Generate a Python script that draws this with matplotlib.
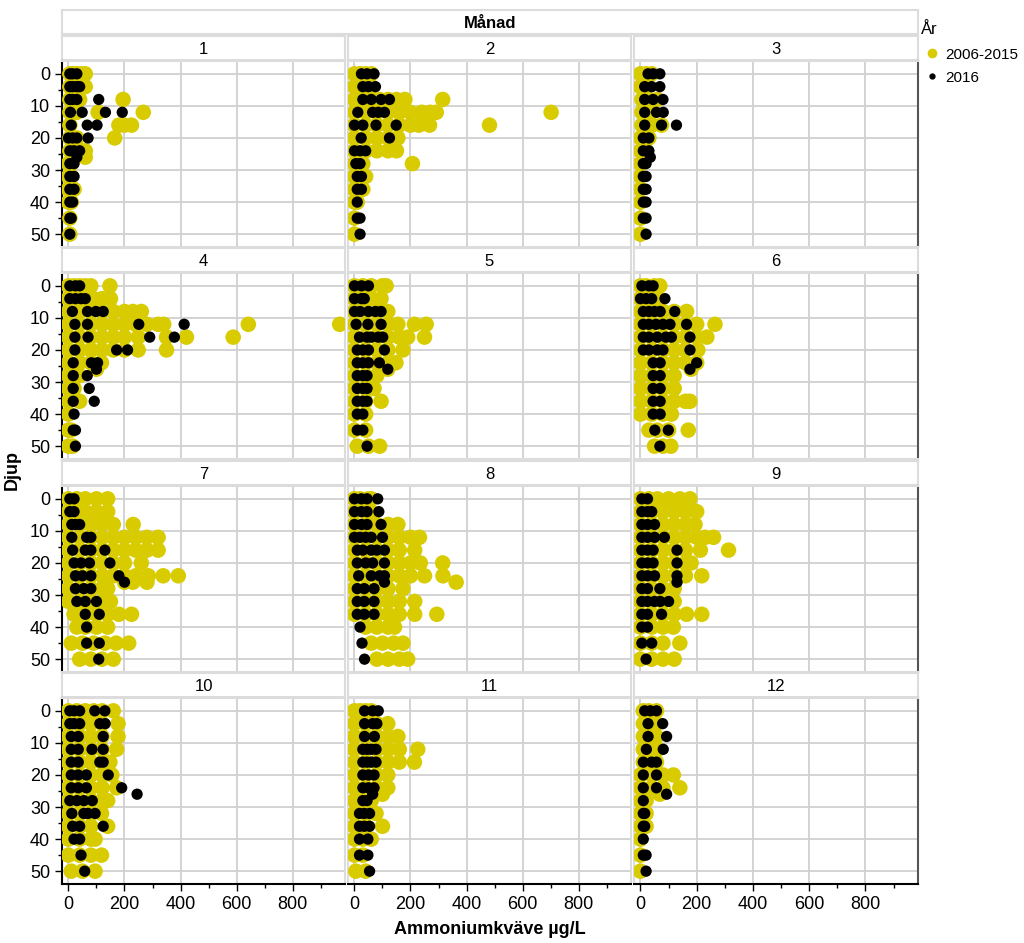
import matplotlib.pyplot as plt
from matplotlib.lines import Line2D
from matplotlib.ticker import MultipleLocator

plt.rcParams['font.family'] = ['Liberation Sans Narrow', 'Liberation Sans', 'DejaVu Sans']

# depth -> ammonium values, one dict per month and period
hist_1 = {0: [5, 15, 30, 45, 60], 4: [5, 20, 40, 60], 8: [5, 20, 40, 195], 12: [5, 30, 106, 267],
          16: [5, 180, 200, 225], 20: [5, 30, 165], 24: [5, 20, 50, 60], 26: [60], 28: [0, 10],
          32: [0, 10], 36: [0, 10, 20], 40: [0, 10], 45: [5], 50: [5]}
y16_1 = {0: [5, 15, 30], 4: [5, 15, 30, 40], 8: [5, 15, 30, 108], 12: [7, 49, 132, 192],
         16: [10, 67, 102], 20: [0, 15, 30, 70], 24: [5, 20, 40], 26: [30], 28: [5, 20],
         32: [5, 20], 36: [5, 20], 40: [5, 15], 45: [5, 10], 50: [5]}

hist_2 = {0: [0, 20, 40, 60], 4: [0, 20, 40, 60], 8: [0, 30, 60, 90, 120, 150, 180, 315],
          12: [0, 40, 80, 120, 160, 200, 240, 270, 292, 702],
          16: [0, 40, 80, 120, 160, 200, 230, 268, 482], 20: [0, 40, 80, 120, 155],
          24: [0, 40, 80, 120, 150], 28: [0, 30, 207], 32: [0, 20, 40], 36: [0, 30],
          40: [0, 10], 45: [0], 50: [0]}
y16_2 = {0: [25, 45, 70], 4: [30, 50, 75], 8: [30, 60, 95, 125], 12: [12, 65, 85, 107],
         16: [0, 30, 77, 149], 20: [24, 125], 24: [0, 20, 40], 28: [5, 20], 32: [10, 25],
         36: [10, 25], 40: [10], 45: [10, 20], 50: [20]}

hist_3 = {0: [0, 20, 40], 4: [0, 20], 8: [5, 30, 60], 12: [5, 40], 16: [5, 40, 75], 20: [0, 30],
          24: [0, 20], 28: [0], 32: [0], 36: [0], 40: [0], 45: [0], 50: [0]}
y16_3 = {0: [27, 45, 69], 4: [15, 40, 69], 8: [15, 45, 80], 12: [15, 57, 81], 16: [15, 75, 128],
         20: [10, 30], 24: [10, 30], 26: [35], 28: [10, 20], 32: [10, 20], 36: [10, 20],
         40: [10, 20], 45: [10, 20], 50: [20]}

hist_4 = {0: [0, 20, 40, 60, 80, 148], 4: [0, 30, 60, 90, 120, 150],
          8: [0, 40, 80, 120, 160, 200, 230, 260],
          12: [0, 40, 80, 120, 160, 200, 240, 280, 320, 340, 642, 968],
          16: [0, 40, 80, 120, 160, 200, 249, 350, 421, 588],
          20: [0, 40, 80, 120, 160, 200, 249, 350], 24: [0, 40, 80, 118], 26: [100],
          28: [0, 20, 40], 32: [0, 20], 36: [0, 40], 40: [0], 45: [0, 10], 50: [0, 15]}
y16_4 = {0: [5, 25, 40], 4: [5, 25, 45, 60], 8: [14, 68, 98, 124], 12: [23, 68, 251, 413],
         16: [23, 70, 290, 378], 20: [23, 172, 211], 24: [17, 82, 104], 26: [100],
         28: [17, 67], 32: [17, 74], 36: [17, 92], 40: [20], 45: [17, 25], 50: [25]}

hist_5 = {0: [0, 30, 60, 100, 113], 4: [0, 30, 60, 95], 8: [0, 40, 80, 119],
          12: [0, 40, 80, 120, 155, 214, 256], 16: [0, 40, 80, 120, 160, 190, 250],
          20: [0, 40, 80, 120, 173], 24: [0, 40, 80, 120, 148], 26: [119], 28: [0, 40, 80],
          32: [0, 40, 70], 36: [0, 40, 95], 40: [0, 40], 45: [0, 40], 50: [10, 50, 90]}
y16_5 = {0: [0, 25, 50], 4: [0, 25, 35], 8: [0, 20, 50, 75, 95], 12: [6, 48, 95],
         16: [18, 45, 60, 85, 101], 20: [10, 30, 50, 107], 24: [10, 30, 50, 89], 26: [119],
         28: [10, 30, 45], 32: [10, 30, 45], 36: [10, 30, 45], 40: [10, 30], 45: [10, 30],
         50: [45]}

hist_6 = {0: [0, 20, 50, 69], 4: [0, 30, 60], 8: [0, 40, 80, 120, 164],
          12: [0, 40, 80, 120, 160, 200, 265], 16: [0, 40, 80, 120, 160, 200, 236],
          20: [0, 40, 80, 120, 160, 204], 24: [0, 40, 80, 120, 160, 200], 26: [180],
          28: [0, 40, 80, 120], 32: [0, 40, 80, 120], 36: [0, 40, 80, 120, 160, 176],
          40: [0, 40, 80, 110], 45: [30, 60, 100, 170], 50: [50, 80, 108]}
y16_6 = {0: [5, 30, 45], 4: [0, 20, 40, 87], 8: [10, 30, 50, 70, 122],
         12: [10, 30, 55, 80, 105, 164], 16: [10, 30, 60, 90, 110, 176],
         20: [10, 30, 60, 80, 176], 24: [45, 70, 200], 26: [176], 28: [45, 70], 32: [45, 70],
         36: [45, 70], 40: [45, 70], 45: [51, 99], 50: [69]}

hist_7 = {0: [0, 30, 60, 100, 140], 4: [0, 30, 60, 100, 140], 8: [0, 40, 80, 120, 160, 231],
          12: [0, 40, 80, 120, 160, 200, 240, 280, 320],
          16: [0, 40, 80, 120, 160, 200, 240, 280, 320], 20: [0, 40, 80, 120, 160, 200, 260],
          24: [0, 40, 80, 120, 160, 200, 240, 285, 338, 392], 26: [200, 230, 280],
          28: [0, 40, 80, 120, 140], 32: [0, 40, 80, 120, 150], 36: [20, 60, 100, 140, 180, 225],
          40: [30, 60, 100, 140], 45: [10, 50, 90, 130, 170, 215], 50: [40, 80, 120, 160]}
y16_7 = {0: [5, 20], 4: [5, 20], 8: [12, 25, 40], 12: [12, 65, 80], 16: [15, 60, 80, 130],
         20: [20, 45, 75, 148], 24: [25, 50, 80, 180], 26: [200], 28: [25, 55, 80],
         32: [30, 60, 100], 36: [60, 110], 40: [65], 45: [65, 110], 50: [108]}

hist_8 = {0: [0, 20, 50, 60], 4: [0, 40, 60], 8: [0, 40, 80, 120, 155],
          12: [0, 40, 80, 120, 160, 200, 232], 16: [0, 40, 80, 120, 160, 215],
          20: [0, 40, 80, 120, 160, 200, 235, 315], 24: [0, 40, 80, 120, 160, 200, 250, 316],
          26: [363], 28: [0, 40, 80, 120, 173], 32: [0, 40, 80, 120, 160, 215],
          36: [0, 40, 80, 120, 160, 215, 294], 40: [40, 80, 120, 143], 45: [60, 100, 140, 173],
          50: [80, 120, 160, 190]}
y16_8 = {0: [0, 25, 45, 83], 4: [0, 25, 45, 87], 8: [0, 25, 45, 95], 12: [0, 20, 40, 60, 100],
         16: [10, 30, 60, 80, 107], 20: [10, 40, 65, 107], 24: [15, 60, 90, 107], 26: [107],
         28: [10, 35, 70], 32: [10, 35, 70], 36: [10, 35, 70], 40: [20], 45: [27], 50: [36]}

hist_9 = {0: [0, 30, 60, 100, 140, 176], 4: [0, 40, 80, 120, 160, 200],
          8: [0, 40, 80, 120, 160, 194], 12: [0, 40, 80, 120, 160, 200, 230, 260],
          16: [0, 40, 80, 120, 160, 213, 313], 20: [0, 40, 80, 120, 160, 180],
          24: [0, 40, 80, 120, 160, 218], 28: [0, 40, 80, 120], 32: [0, 40, 80, 120],
          36: [0, 40, 80, 120, 164, 218], 40: [0, 40, 80, 117], 45: [0, 40, 80, 140],
          50: [0, 40, 80, 120]}
y16_9 = {0: [5, 25], 4: [5, 25, 40], 8: [5, 25, 50], 12: [5, 25, 50, 85], 16: [5, 25, 45, 130],
         20: [5, 25, 45, 130], 24: [5, 25, 50, 130], 26: [130], 28: [5, 25, 69],
         32: [5, 25, 50, 70, 100], 36: [5, 25, 75], 40: [5, 25], 45: [5, 40], 50: [20]}

hist_10 = {0: [0, 30, 60, 90, 120, 160], 4: [0, 40, 80, 120, 177], 8: [0, 40, 80, 120, 177],
           12: [0, 40, 80, 120, 172], 16: [0, 40, 80, 120, 148], 20: [0, 40, 80, 120, 155],
           24: [0, 40, 80, 120, 172], 28: [0, 40, 80, 120, 140], 32: [0, 40, 80, 118],
           36: [0, 40, 80, 140], 40: [0, 40, 80, 95], 45: [0, 40, 80, 118], 50: [10, 50, 95]}
y16_10 = {0: [5, 20, 40, 94, 130], 4: [5, 20, 40, 112, 131], 8: [10, 35, 124],
          12: [10, 35, 84, 124], 16: [10, 35, 112, 124], 20: [10, 35, 64, 142],
          24: [10, 35, 64, 190], 26: [245], 28: [5, 30, 55, 85], 32: [12, 55, 70, 95],
          36: [15, 40, 124], 40: [20, 40], 45: [45], 50: [58]}

hist_11 = {0: [0, 20, 40, 60], 4: [0, 40, 80, 119], 8: [0, 40, 80, 120, 155],
           12: [0, 40, 80, 120, 160, 226], 16: [0, 40, 80, 120, 160, 214], 20: [0, 40, 80, 119],
           24: [0, 40, 80, 119], 26: [100], 28: [0, 30, 60], 32: [0, 40, 77], 36: [0, 40, 100],
           40: [0, 30, 60], 45: [0, 30], 50: [5, 40]}
y16_11 = {0: [36, 65, 85], 4: [36, 65, 80], 8: [36, 71], 12: [30, 45, 60, 77],
          16: [30, 45, 60, 77], 20: [30, 50, 70], 24: [30, 50, 70], 26: [65], 28: [30, 45],
          32: [18, 35, 54], 36: [18, 35, 54], 40: [18, 48], 45: [18, 48], 50: [54]}

hist_12 = {0: [10, 30, 57], 4: [10, 30, 57], 8: [10, 40, 57], 12: [10, 40, 62],
           16: [10, 40, 57], 20: [0, 40, 80, 117], 24: [0, 40, 80, 140], 26: [69], 28: [0, 20],
           32: [0, 20], 36: [0, 20], 40: [0], 45: [0], 50: [0]}
y16_12 = {0: [15, 35, 57], 4: [27, 79], 8: [27, 93], 12: [21, 81], 16: [10, 40, 57],
          20: [10, 57], 24: [10, 57], 26: [93], 28: [10], 32: [10, 15], 36: [10, 15], 40: [10],
          45: [10, 20], 50: [20]}

hist_all = [hist_1, hist_2, hist_3, hist_4, hist_5, hist_6,
            hist_7, hist_8, hist_9, hist_10, hist_11, hist_12]
y16_all = [y16_1, y16_2, y16_3, y16_4, y16_5, y16_6,
           y16_7, y16_8, y16_9, y16_10, y16_11, y16_12]
months = [str(m) for m in range(1, 13)]
series_labels = ['2006-2015', '2016']

YELLOW = '#d8cc00'
GRID = '#d0d0d0'
BORDER = '#dcdcdc'

W, H = 1024, 943
fig = plt.figure(figsize=(W / 100, H / 100), dpi=100)


def box(x0, y0, x1, y1):
    return [x0 / W, 1 - y1 / H, (x1 - x0) / W, (y1 - y0) / H]


def flatten(d):
    xs, ys = [], []
    for depth, vals in d.items():
        for v in vals:
            xs.append(v)
            ys.append(depth)
    return xs, ys


col_x = [(62, 345), (348, 631), (634, 918)]
row_y = [(61, 247), (273, 459), (486, 672), (698, 884)]

# top strip
top = fig.add_axes(box(62, 10, 918, 34))
top.set_xticks([])
top.set_yticks([])
for s in top.spines.values():
    s.set_color(BORDER)
    s.set_linewidth(1.5)
top.text(0.5, 0.45, 'Månad', ha='center', va='center', fontsize=12, fontweight='bold')

for i in range(12):
    r, c = divmod(i, 3)
    x0, x1 = col_x[c]
    y0, y1 = row_y[r]

    strip = fig.add_axes(box(x0, y0 - 25, x1, y0 - 1))
    strip.set_xticks([])
    strip.set_yticks([])
    for s in strip.spines.values():
        s.set_color(BORDER)
        s.set_linewidth(1.5)
    strip.text(0.5, 0.45, months[i], ha='center', va='center', fontsize=12)

    ax = fig.add_axes(box(x0, y0, x1, y1))
    hx, hy = flatten(hist_all[i])
    bx, by = flatten(y16_all[i])
    ax.scatter(hx, hy, s=125, color=YELLOW, edgecolors='none', zorder=3)
    ax.scatter(bx, by, s=66, color='black', edgecolors='none', zorder=4)

    ax.set_xlim(-23, 987)
    ax.set_ylim(54, -4)
    ax.set_xticks([0, 200, 400, 600, 800])
    ax.xaxis.set_minor_locator(MultipleLocator(100))
    ax.set_yticks([0, 10, 20, 30, 40, 50])
    ax.yaxis.set_minor_locator(MultipleLocator(5))
    ax.grid(True, which='major', color=GRID, linewidth=1.3, zorder=0)
    ax.set_axisbelow(True)

    for s in ax.spines.values():
        s.set_color(BORDER)
        s.set_linewidth(1.5)
    if c == 2:
        ax.spines['right'].set_color('#555555')

    ax.tick_params(which='both', direction='out', colors='black', labelsize=13)
    ax.tick_params(which='major', length=5, width=1)
    ax.tick_params(which='minor', length=3, width=1)
    if c == 0:
        ax.spines['left'].set_color('black')
    else:
        ax.tick_params(axis='y', which='both', left=False, labelleft=False)
    if r == 3:
        ax.spines['bottom'].set_color('black')
    else:
        ax.tick_params(axis='x', which='both', bottom=False, labelbottom=False)

fig.text(490 / W, 1 - 930 / H, 'Ammoniumkväve µg/L', ha='center', va='center',
         fontsize=13, fontweight='bold')
fig.text(12 / W, 1 - 470 / H, 'Djup', ha='center', va='center', rotation=90,
         fontsize=13, fontweight='bold')

fig.text(921 / W, 1 - 30 / H, 'År', ha='left', va='center', fontsize=12)
handles = [Line2D([], [], linestyle='none', marker='o', markersize=6, color=YELLOW),
           Line2D([], [], linestyle='none', marker='o', markersize=3.5, color='black')]
fig.legend(handles, series_labels, loc='upper left', bbox_to_anchor=(921 / W, 1 - 46 / H),
           frameon=False, fontsize=11, handletextpad=0.2, labelspacing=0.6,
           borderaxespad=0, borderpad=0.1, handlelength=1.3)

fig.savefig('out.png', dpi=100)
